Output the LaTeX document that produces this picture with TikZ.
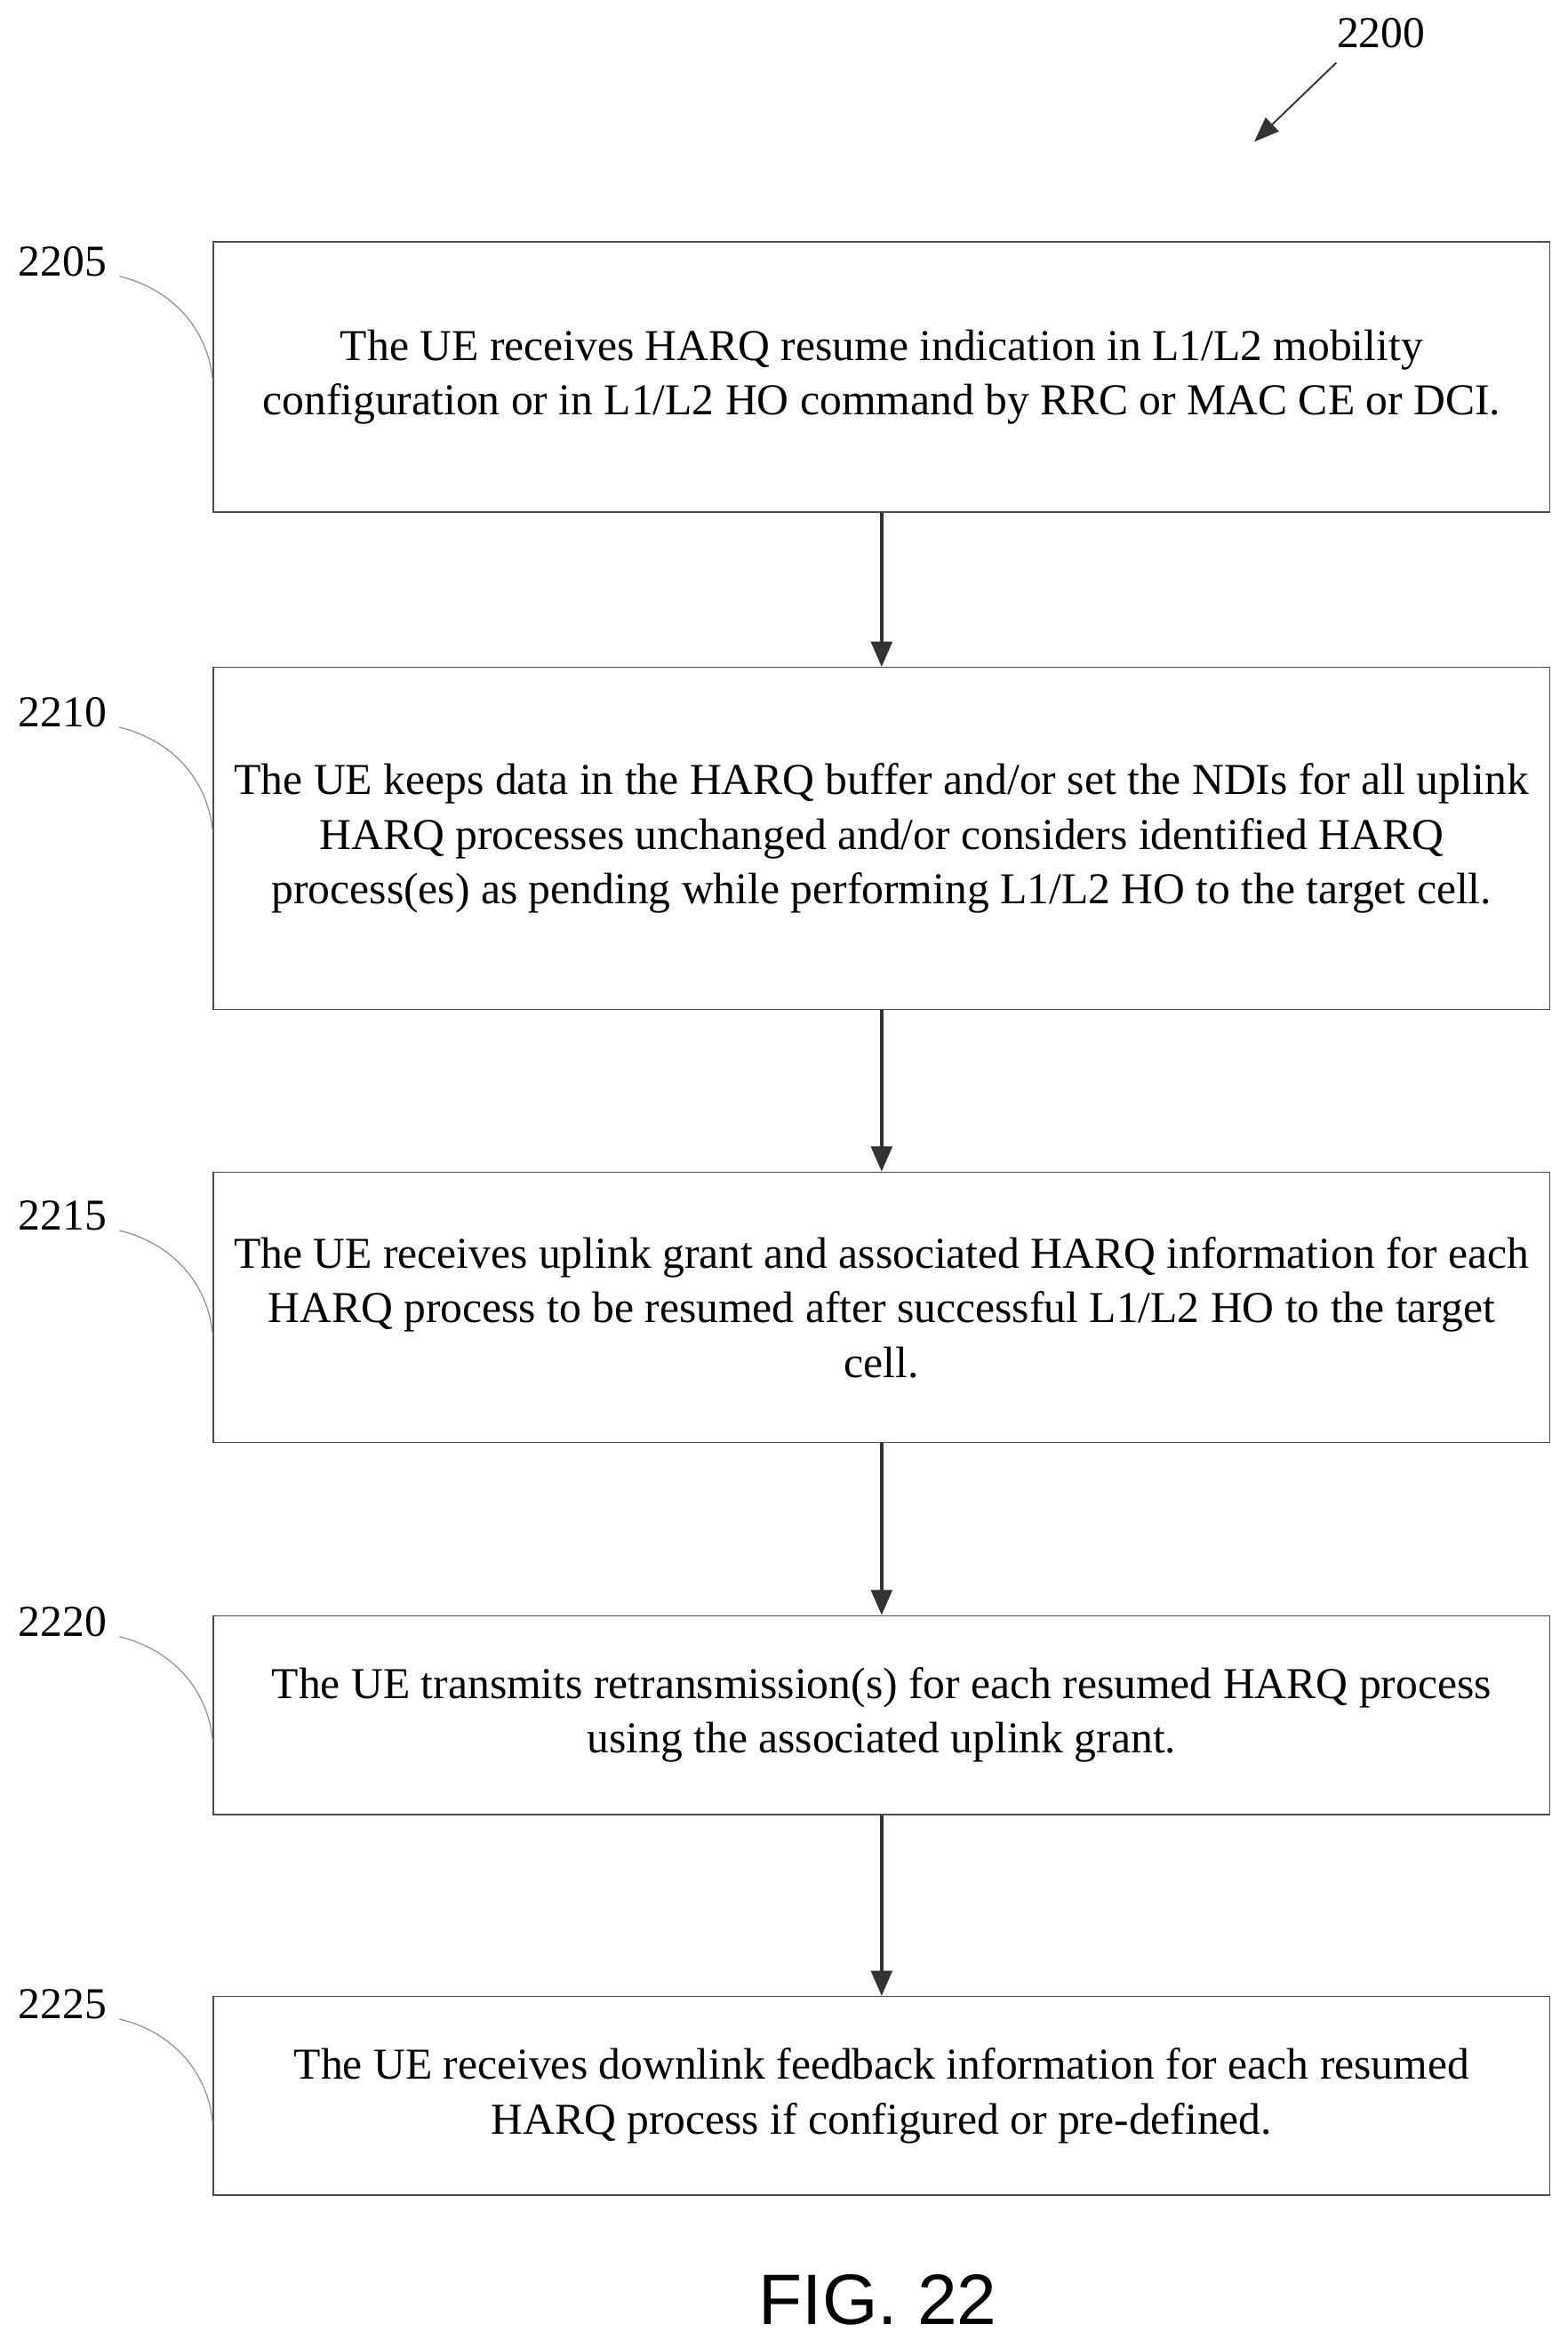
\documentclass[tikz,border=0pt]{standalone}
\usepackage{fontspec}
\setmainfont{Liberation Serif}
\setsansfont{Liberation Sans}
\usetikzlibrary{arrows.meta}
\tikzset{
  stepbox/.style={draw=black!70, line width=0.6pt, minimum width=22.375cm, align=center,
    font=\fontsize{21}{26}\selectfont, inner sep=0pt},
  flow/.style={-{Triangle[length=12pt,width=10pt]}, line width=1.6pt, black!80},
  reflabel/.style={font=\fontsize{21}{26}\selectfont},
  leader/.style={black!45, line width=0.5pt}
}
\begin{document}
\begin{tikzpicture}[x=0.025cm, y=-0.025cm]
        \useasboundingbox (0,0) rectangle (1050,1567);
        % Steps
        \node[stepbox, minimum height=4.525cm] (s2205) at (590.5,252.5)
          {The UE receives HARQ resume indication in L1/L2 mobility\\configuration or in L1/L2 HO command by RRC or MAC CE or DCI.};
        \node[stepbox, minimum height=5.725cm] (s2210) at (590.5,561.5)
          {The UE keeps data in the HARQ buffer and/or set the NDIs for all uplink\\HARQ processes unchanged and/or considers identified HARQ\\process(es) as pending while performing L1/L2 HO to the target cell.};
        \node[stepbox, minimum height=4.525cm] (s2215) at (590.5,875.5)
          {The UE receives uplink grant and associated HARQ information for each\\HARQ process to be resumed after successful L1/L2 HO to the target\\cell.};
        \node[stepbox, minimum height=3.325cm] (s2220) at (590.5,1148.5)
          {The UE transmits retransmission(s) for each resumed HARQ process\\using the associated uplink grant.};
        \node[stepbox, minimum height=3.325cm] (s2225) at (590.5,1403.5)
          {The UE receives downlink feedback information for each resumed\\HARQ process if configured or pre-defined.};

        % Arrows
        \draw[flow] (s2205) -- (s2210);
        \draw[flow] (s2210) -- (s2215);
        \draw[flow] (s2215) -- (s2220);
        \draw[flow] (s2220) -- (s2225);

        % Reference numerals
        \foreach \n/\y in {2205/175, 2210/477, 2215/814, 2220/1086, 2225/1342} {
            \node[reflabel] (l\n) at (42,\y) {\n};
            \draw[leader] (80,\y+10) .. controls (120,\y+20) and (140,\y+50) .. (s\n.west |- 0,\y+80);
        }
        \node[reflabel] (l2200) at (925,22) {2200};
        \coordinate (tip2200) at (840,95);
        \draw[-{Triangle[length=12pt,width=9pt]}, line width=0.8pt, black!80] (895,42) -- (tip2200);

        \node[font=\sffamily\fontsize{34}{40}\selectfont] (fig) at (588,1540) {FIG. 22};
    \end{tikzpicture}
\end{document}
